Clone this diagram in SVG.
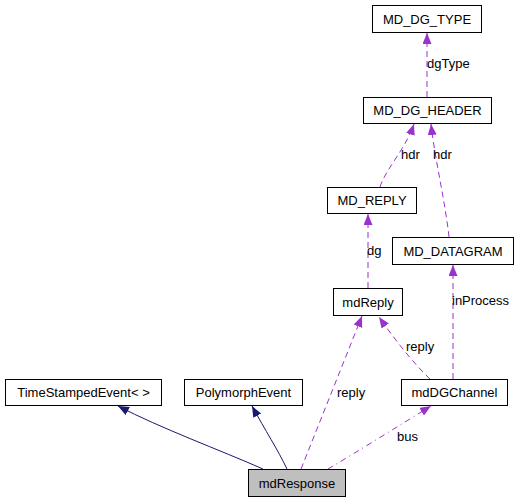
<svg xmlns="http://www.w3.org/2000/svg" width="517" height="501" viewBox="0 0 517 501">
<style>
.n rect{fill:#fff;stroke:#000;stroke-width:1}
.n text,.lbl{font-family:"Liberation Sans",Arial,sans-serif;font-size:13px;fill:#000}
.n text{text-anchor:middle}
.inh{fill:none;stroke:#191970;stroke-width:1;marker-end:url(#ah)}
.use{fill:none;stroke:#9a32cd;stroke-width:1;stroke-dasharray:6,4;marker-end:url(#ap)}
.dd{stroke-dasharray:6,4,1,4}
</style>
<defs>
<marker id="ah" markerUnits="userSpaceOnUse" markerWidth="12" markerHeight="10" refX="11" refY="4.5" orient="auto"><path d="M0,0 L11,4.5 L0,9 z" fill="#191970"/></marker>
<marker id="ap" markerUnits="userSpaceOnUse" markerWidth="12" markerHeight="10" refX="11" refY="4.5" orient="auto"><path d="M0,0 L11,4.5 L0,9 z" fill="#9a32cd"/></marker>
</defs>
<g id="edges">
<path class="inh" d="M263,469 C220,450 160,428 118,406"/>
<path class="inh" d="M287,469 C278,450 265,430 252,406"/>
<path class="use" d="M301,469 L362,316"/>
<path class="use dd" d="M328,469 C360,450 400,425 431,406"/>
<path class="use" d="M430,379 C415,365 395,340 379,317"/>
<path class="use" d="M453,379 L453,265"/>
<path class="use" d="M368,288 L368,214"/>
<path class="use" d="M380,187 C385,170 405,150 414,124"/>
<path class="use" d="M449,237 C445,200 435,160 431,124"/>
<path class="use" d="M427,97 L427,33"/>
<text class="lbl" x="337" y="397">reply</text>
<text class="lbl" x="397" y="441">bus</text>
<text class="lbl" x="406" y="351">reply</text>
<text class="lbl" x="452" y="305">inProcess</text>
<text class="lbl" x="367" y="255">dg</text>
<text class="lbl" x="401" y="159">hdr</text>
<text class="lbl" x="433" y="159">hdr</text>
<text class="lbl" x="427" y="68">dgType</text>
</g>
<g id="MD_DG_TYPE" class="n"><rect x="372.5" y="5.5" width="109" height="27"/><text x="427" y="23.5">MD_DG_TYPE</text></g>
<g id="MD_DG_HEADER" class="n"><rect x="363.5" y="97.5" width="128" height="26"/><text x="427.5" y="115">MD_DG_HEADER</text></g>
<g id="MD_REPLY" class="n"><rect x="327.5" y="187.5" width="89" height="26"/><text x="372" y="205">MD_REPLY</text></g>
<g id="MD_DATAGRAM" class="n"><rect x="392.5" y="237.5" width="121" height="27"/><text x="453" y="255.5">MD_DATAGRAM</text></g>
<g id="mdReply" class="n"><rect x="333.5" y="288.5" width="69" height="27"/><text x="368" y="306.5">mdReply</text></g>
<g id="mdDGChannel" class="n"><rect x="401.5" y="379.5" width="106" height="26"/><text x="454.5" y="397">mdDGChannel</text></g>
<g id="TimeStampedEvent" class="n"><rect x="5.5" y="379.5" width="156" height="26"/><text x="83.5" y="397">TimeStampedEvent&lt; &gt;</text></g>
<g id="PolymorphEvent" class="n"><rect x="184.5" y="379.5" width="118" height="26"/><text x="243.5" y="397">PolymorphEvent</text></g>
<g id="mdResponse" class="n"><rect x="248.5" y="469.5" width="97" height="27" style="fill:#bfbfbf"/><text x="297" y="487.5">mdResponse</text></g>
</svg>
